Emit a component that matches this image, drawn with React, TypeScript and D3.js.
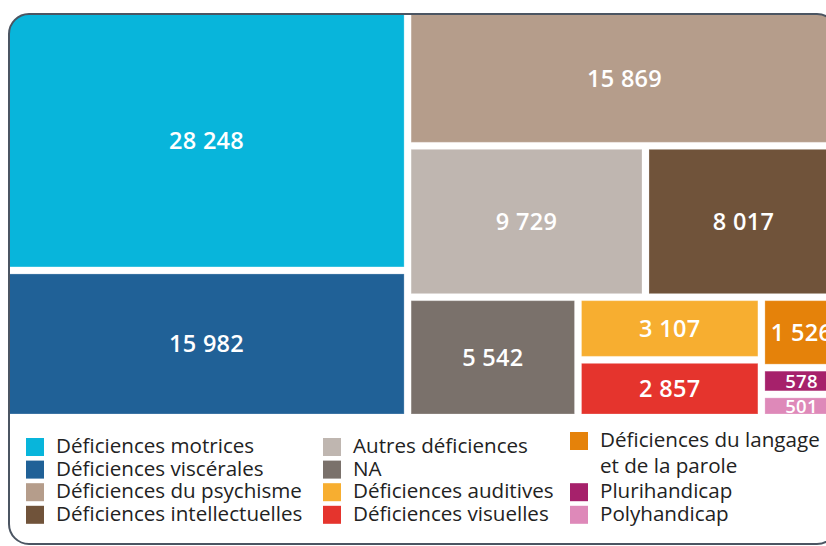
import React, { useMemo } from "react";
import * as d3 from "d3";

// Legend order (column by column)
const categories = [
  "Déficiences motrices",
  "Déficiences viscérales",
  "Déficiences du psychisme",
  "Déficiences intellectuelles",
  "Autres déficiences",
  "NA",
  "Déficiences auditives",
  "Déficiences visuelles",
  "Déficiences du langage et de la parole",
  "Plurihandicap",
  "Polyhandicap",
];
const values = [28248, 15982, 15869, 8017, 9729, 5542, 3107, 2857, 1526, 578, 501];
const colors = [
  "#08b5db",
  "#206197",
  "#b59d8b",
  "#70533a",
  "#bfb6b0",
  "#7a716b",
  "#f7ae30",
  "#e5342d",
  "#e5820a",
  "#a6216b",
  "#de89b9",
];
// legend text lines (for wrapped entries)
const legendLines = [
  ["Déficiences motrices"],
  ["Déficiences viscérales"],
  ["Déficiences du psychisme"],
  ["Déficiences intellectuelles"],
  ["Autres déficiences"],
  ["NA"],
  ["Déficiences auditives"],
  ["Déficiences visuelles"],
  ["Déficiences du langage", "et de la parole"],
  ["Plurihandicap"],
  ["Polyhandicap"],
];
const legendColumns = [
  [0, 1, 2, 3],
  [4, 5, 6, 7],
  [8, 9, 10],
];
// nesting of the tiles, by category index (slice/dice alternates per level)
const tileGroups: any[] = [
  [0, 1],
  [2, [4, 3], [5, [6, 7], [8, 9, 10]]],
];

const WIDTH = 826;
const HEIGHT = 546;
const CARD = { x: 9, y: 14, w: 828, h: 530, r: 20 };
const TM = { x: 9, y: 14, w: 829, h: 400 };
const FONT = "'Open Sans', sans-serif";

const fmt = d3.formatLocale({
  decimal: ",",
  thousands: "\u00a0",
  grouping: [3],
  currency: ["", " €"],
}).format(",d");

function toTree(g: any): any {
  if (Array.isArray(g)) return { children: g.map(toTree) };
  return { idx: g, name: categories[g], value: values[g] };
}

export default function App() {
  const leaves = useMemo(() => {
    const root = d3
      .hierarchy(toTree(tileGroups))
      .sum((d: any) => (d.children ? 0 : d.value));
    d3
      .treemap()
      .tile(d3.treemapSliceDice)
      .size([TM.w, TM.h])
      .paddingInner(7)(root);
    return root.leaves() as any[];
  }, []);

  const rowStep = 22.6;
  const legendTop = 438;
  const colX = [26, 323, 570];

  return (
    <svg width={WIDTH} height={HEIGHT} style={{ display: "block", position: "absolute", left: 0, top: 0 }}>
      <defs>
        <clipPath id="card-clip">
          <rect x={CARD.x} y={CARD.y} width={CARD.w} height={CARD.h} rx={CARD.r} />
        </clipPath>
      </defs>
      <rect width={WIDTH} height={HEIGHT} fill="#fff" />
      <g clipPath="url(#card-clip)">
        <g transform={`translate(${TM.x},${TM.y})`}>
          {leaves.map((d) => {
            const i = d.data.idx;
            const w = d.x1 - d.x0;
            const h = d.y1 - d.y0;
            const small = h < 30;
            return (
              <g key={i}>
                <rect
                  x={d.x0}
                  y={d.y0}
                  width={w}
                  height={h}
                  fill={colors[i]}
                  stroke="#ffffff"
                  strokeOpacity={0.25}
                  strokeWidth={1}
                />
                <text
                  x={(d.x0 + d.x1) / 2}
                  y={(d.y0 + d.y1) / 2}
                  dy="0.36em"
                  textAnchor="middle"
                  fill="#fff"
                  fontFamily={FONT}
                  fontWeight={600}
                  fontSize={small ? 18.5 : 23.5}
                  letterSpacing={0.3}
                >
                  {fmt(values[i])}
                </text>
              </g>
            );
          })}
        </g>
        {/* white out overflow below treemap */}
        <rect x={CARD.x} y={TM.y + TM.h} width={CARD.w} height={CARD.h} fill="#fff" />
      </g>
      <rect
        x={CARD.x}
        y={CARD.y}
        width={CARD.w}
        height={CARD.h}
        rx={CARD.r}
        fill="none"
        stroke="#4b5562"
        strokeWidth={2}
      />
      {legendColumns.map((col, ci) => {
        let y = legendTop;
        return col.map((idx) => {
          const lines = legendLines[idx];
          const sy = lines.length > 1 ? y - 6 : y;
          const el = (
            <g key={idx}>
              <rect x={colX[ci]} y={sy} width={18} height={18} fill={colors[idx]} />
              {lines.map((ln, li) => (
                <text
                  key={li}
                  x={colX[ci] + 30}
                  y={sy + 15 + li * 26}
                  fontFamily={FONT}
                  fontSize={20.6}
                  fill="#222"
                >
                  {ln}
                </text>
              ))}
            </g>
          );
          y += lines.length > 1 ? rowStep * 2 : rowStep;
          return el;
        });
      })}
    </svg>
  );
}
